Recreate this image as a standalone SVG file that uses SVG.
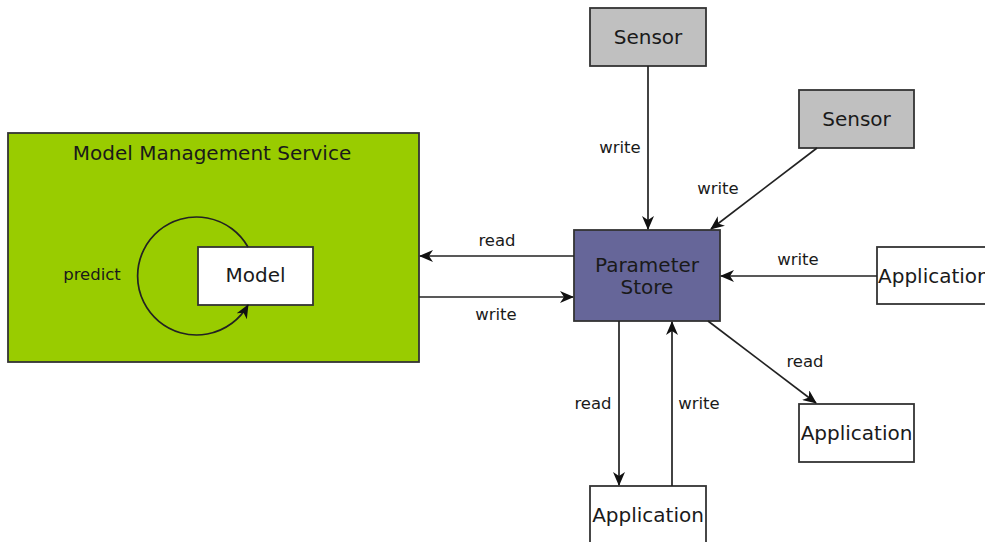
<svg xmlns="http://www.w3.org/2000/svg" width="985" height="542" viewBox="0 0 985 542">
  <style>
    .box { stroke: #333333; stroke-width: 1.8; }
    .node-text { font-family: "DejaVu Sans", sans-serif; font-size: 20px; fill: #1a1a1a; text-anchor: middle; }
    .label { font-family: "DejaVu Sans", sans-serif; font-size: 16.5px; fill: #1a1a1a; text-anchor: middle; }
    .edge { stroke: #222222; stroke-width: 1.7; fill: none; marker-end: url(#arrow); }
  </style>
  <defs>
    <marker id="arrow" viewBox="0 0 14 12" refX="13" refY="6" markerWidth="14" markerHeight="12" markerUnits="userSpaceOnUse" orient="auto">
      <path d="M0,0 L14,6 L0,12 L4,6 Z" fill="#111111"/>
    </marker>
  </defs>

  <rect width="985" height="542" fill="#ffffff"/>

  <!-- Model Management Service container -->
  <g id="model-management-service">
    <rect class="box" x="8" y="133" width="411" height="229" fill="#99cc00"/>
    <text class="node-text" x="212" y="160">Model Management Service</text>
  </g>

  <g id="model">
    <rect class="box" x="198" y="247" width="115" height="58" fill="#ffffff"/>
    <text class="node-text" x="255.5" y="282">Model</text>
  </g>

  <g id="sensor-1">
    <rect class="box" x="590" y="8" width="116" height="58" fill="#c0c0c0"/>
    <text class="node-text" x="648" y="44">Sensor</text>
  </g>

  <g id="sensor-2">
    <rect class="box" x="799" y="90" width="115" height="58" fill="#c0c0c0"/>
    <text class="node-text" x="856.5" y="126">Sensor</text>
  </g>

  <g id="parameter-store">
    <rect class="box" x="574" y="230" width="146" height="91" fill="#666699"/>
    <text class="node-text" x="647" y="272">Parameter</text>
    <text class="node-text" x="647" y="294">Store</text>
  </g>

  <g id="application-right">
    <rect class="box" x="877" y="247" width="120" height="57" fill="#ffffff"/>
    <text class="node-text" x="878" y="283" style="text-anchor:start">Application</text>
  </g>

  <g id="application-lower-right">
    <rect class="box" x="799" y="404" width="115" height="58" fill="#ffffff"/>
    <text class="node-text" x="856.5" y="440">Application</text>
  </g>

  <g id="application-bottom">
    <rect class="box" x="590" y="486" width="116" height="70" fill="#ffffff"/>
    <text class="node-text" x="648" y="522">Application</text>
  </g>

  <!-- Connectors -->
  <g id="connectors">
    <path class="edge" d="M248,247 A59,59 0 1 0 248,305"/>
    <path class="edge" d="M574,256 L420,256"/>
    <path class="edge" d="M419,297 L573,297"/>
    <path class="edge" d="M648,66 L648,229"/>
    <path class="edge" d="M817,148 L711,229"/>
    <path class="edge" d="M877,276 L721,276"/>
    <path class="edge" d="M708,321 L816,403"/>
    <path class="edge" d="M619,321 L619,485"/>
    <path class="edge" d="M672,486 L672,322"/>
  </g>

  <!-- Connector labels -->
  <g id="labels">
    <text class="label" x="92" y="280">predict</text>
    <text class="label" x="497" y="246">read</text>
    <text class="label" x="496" y="320">write</text>
    <text class="label" x="620" y="153">write</text>
    <text class="label" x="718" y="194">write</text>
    <text class="label" x="798" y="265">write</text>
    <text class="label" x="805" y="367">read</text>
    <text class="label" x="593" y="409">read</text>
    <text class="label" x="699" y="409">write</text>
  </g>
</svg>
